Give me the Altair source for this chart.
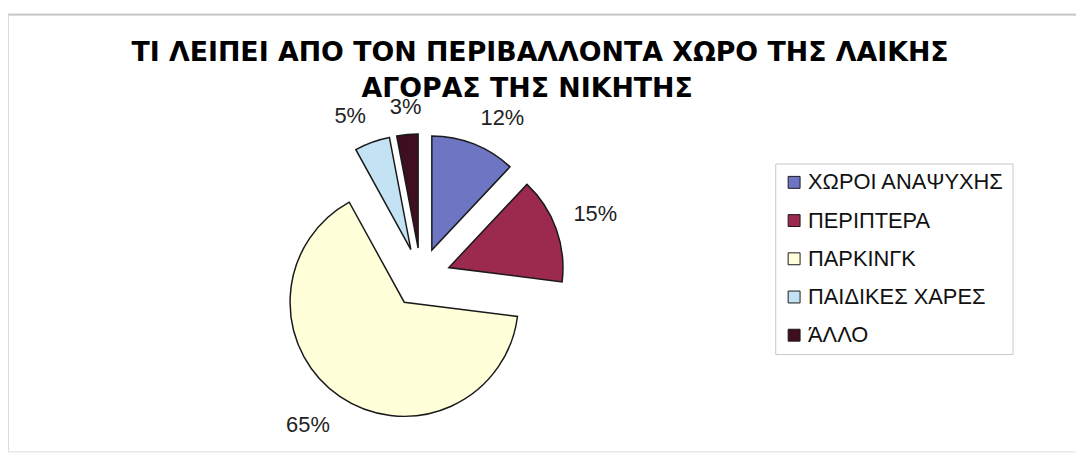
import altair as alt
import pandas as pd

# ---- data ----
categories = ["ΧΩΡΟΙ ΑΝΑΨΥΧΗΣ", "ΠΕΡΙΠΤΕΡΑ", "ΠΑΡΚΙΝΓΚ", "ΠΑΙΔΙΚΕΣ ΧΑΡΕΣ", "ΆΛΛΟ"]
values = [12, 15, 65, 5, 3]
colors = ["#6E75C2", "#9B2A4E", "#FFFFDA", "#C3E3F5", "#3F0E20"]
title_lines = ["ΤΙ ΛΕΙΠΕΙ ΑΠΟ ΤΟΝ ΠΕΡΙΒΑΛΛΟΝΤΑ ΧΩΡΟ ΤΗΣ ΛΑΙΚΗΣ", "ΑΓΟΡΑΣ ΤΗΣ ΝΙΚΗΤΗΣ"]

df = pd.DataFrame({"cat": categories, "value": values, "order": list(range(len(values)))})

W, H = 1076, 440
R = 115          # pie radius in px
EXPLODE = 0.26   # explode distance in radius units
LABEL_R = 1.42   # radius (in R units) where the label's nearest corner sits
FONT = "Liberation Sans"

xscale = alt.Scale(domain=[-416 / R, (W - 416) / R], nice=False, zero=False)
yscale = alt.Scale(domain=[-(H - 265) / R, 265 / R], nice=False, zero=False)

base = alt.Chart(df).transform_window(
    cum="sum(value)", sort=[alt.SortField("order")], frame=[None, 0]
).transform_joinaggregate(
    total="sum(value)"
).transform_calculate(
    t1="datum.cum / datum.total * 2 * PI",
    t0="(datum.cum - datum.value) / datum.total * 2 * PI",
).transform_calculate(
    mid="(datum.t0 + datum.t1) / 2"
).transform_calculate(
    s="sin(datum.mid)",
    c="cos(datum.mid)",
).transform_calculate(
    cx=f"{EXPLODE} * datum.s",
    cy=f"{EXPLODE} * datum.c",
    lx=f"{LABEL_R} * datum.s",
    ly=f"{LABEL_R} * datum.c",
    label="datum.value + '%'",
)

arcs = base.mark_arc(outerRadius=R, stroke="#1a1a1a", strokeWidth=1.5).encode(
    x=alt.X("cx:Q", scale=xscale, axis=None),
    y=alt.Y("cy:Q", scale=yscale, axis=None),
    theta=alt.Theta("t0:Q", scale=None),
    theta2="t1:Q",
    color=alt.Color(
        "cat:N",
        sort=categories,
        scale=alt.Scale(domain=categories, range=colors),
        legend=alt.Legend(
            title=None,
            orient="none",
            legendX=773,
            legendY=150,
            symbolType="square",
            symbolSize=144,
            symbolStrokeColor="#1a1a1a",
            symbolStrokeWidth=1,
            labelFont=FONT,
            labelFontSize=22,
            labelColor="#111111",
            labelOffset=3,
            rowPadding=16.5,
            padding=8,
            strokeColor="#c8c8c8",
            fillColor="white",
            labelLimit=400,
        ),
    ),
)


def label_layer(cond, align, baseline):
    return base.transform_filter(cond).mark_text(
        font=FONT, fontSize=22, color="#222222", align=align, baseline=baseline, dy=3
    ).encode(
        x=alt.X("lx:Q", scale=xscale, axis=None),
        y=alt.Y("ly:Q", scale=yscale, axis=None),
        text="label:N",
    )


layers = []
for hcond, align in [("datum.s >= 0.2", "left"), ("datum.s <= -0.2", "right"),
                     ("abs(datum.s) < 0.2", "center")]:
    for vcond, baseline in [("datum.c >= 0", "bottom"), ("datum.c < 0", "top")]:
        layers.append(label_layer(f"{hcond} && {vcond}", align, baseline))

tdf = pd.DataFrame({"t": title_lines})
TFONT = "DejaVu Sans"
title1 = alt.Chart(tdf).transform_filter(alt.datum.t == title_lines[0]).mark_text(
    font=TFONT, fontSize=27, fontWeight="bold", color="#000000", baseline="middle", align="center"
).encode(text="t:N", x=alt.value(536), y=alt.value(39))
title2 = alt.Chart(tdf).transform_filter(alt.datum.t == title_lines[1]).mark_text(
    font=TFONT, fontSize=27, fontWeight="bold", color="#000000", baseline="middle", align="center"
).encode(text="t:N", x=alt.value(523), y=alt.value(75))

frame_top = alt.Chart(tdf).mark_rule(color="#c8c8c8", strokeWidth=1.5).encode(
    x=alt.value(0), x2=alt.value(W), y=alt.value(0)
)
frame_left = alt.Chart(tdf).mark_rule(color="#dcdcdc", strokeWidth=1.5).encode(
    x=alt.value(0), y=alt.value(0), y2=alt.value(H)
)

chart = alt.layer(
    frame_top, frame_left, arcs, *layers, title1, title2
).properties(
    width=W,
    height=H,
    autosize=alt.AutoSizeParams(type="none"),
    padding={"top": 5, "left": 0, "right": 0, "bottom": 0},
).configure_view(stroke=None).configure(background="white")

chart.save("out.html", embed_options={"renderer": "svg", "actions": False})
